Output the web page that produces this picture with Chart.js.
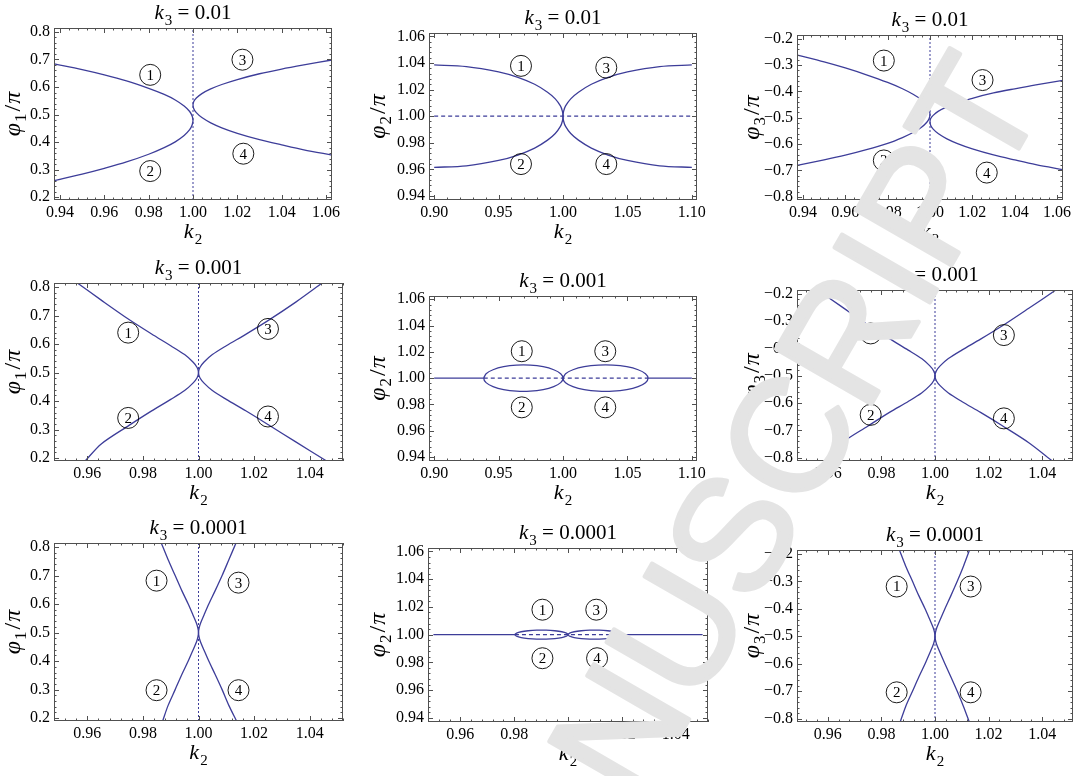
<!DOCTYPE html>
<html>
<head>
<meta charset="utf-8">
<script src="https://cdn.jsdelivr.net/npm/chart.js@4.4.1/dist/chart.umd.min.js"></script>
<style>
  html, body { margin: 0; padding: 0; background: #fff; overflow: hidden; }
  #page { position: relative; width: 1077px; height: 776px; overflow: hidden; background: #fff; }
  #page canvas { position: absolute; }
  #stamp { left: 0; top: 0; z-index: 5; pointer-events: none; }
</style>
</head>
<body>
<div id="page"></div>
<script>
/* tick values */
const k2TicksWide = [0.94, 0.96, 0.98, 1.00, 1.02, 1.04, 1.06];
const k2TicksHalf = [0.90, 0.95, 1.00, 1.05, 1.10];
const k2TicksNarrow = [0.96, 0.98, 1.00, 1.02, 1.04];
const phi1Ticks = [0.2, 0.3, 0.4, 0.5, 0.6, 0.7, 0.8];
const phi2Ticks = [0.94, 0.96, 0.98, 1.00, 1.02, 1.04, 1.06];
const phi3Ticks = [-0.8, -0.7, -0.6, -0.5, -0.4, -0.3, -0.2];

const k3Values = ['0.01', '0.001', '0.0001'];
const regionNames = ['1', '2', '3', '4'];

/* k3 = 0.01 */
const p1LeftK2 = [0.9373, 0.95, 0.96, 0.97, 0.98, 0.987, 0.992, 0.996, 0.9985, 0.9996, 1.0, 0.9996, 0.9985, 0.996, 0.992, 0.987, 0.98, 0.97, 0.96, 0.95, 0.9373];
const p1LeftPhi = [0.684, 0.663, 0.644, 0.622, 0.595, 0.573, 0.553, 0.531, 0.511, 0.495, 0.479, 0.462, 0.445, 0.424, 0.401, 0.380, 0.356, 0.328, 0.305, 0.284, 0.260];
const p1RightK2 = [1.0627, 1.05, 1.04, 1.03, 1.02, 1.013, 1.008, 1.004, 1.0015, 1.0004, 1.0, 1.0004, 1.0015, 1.004, 1.008, 1.013, 1.02, 1.03, 1.04, 1.05, 1.0627];
const p1RightPhi = [0.698, 0.680, 0.665, 0.648, 0.627, 0.609, 0.593, 0.576, 0.560, 0.548, 0.535, 0.520, 0.507, 0.489, 0.470, 0.452, 0.432, 0.409, 0.390, 0.372, 0.353];
const p1TagK2 = [0.9807, 0.9807, 1.0223, 1.0227];
const p1TagPhi = [0.644, 0.295, 0.699, 0.358];

const p2LeftK2 = [0.90, 0.925, 0.95, 0.965, 0.978, 0.988, 0.994, 0.998, 0.9995, 1.0, 0.9995, 0.998, 0.994, 0.988, 0.978, 0.965, 0.95, 0.925, 0.90];
const p2RightK2 = [1.10, 1.075, 1.05, 1.035, 1.022, 1.012, 1.006, 1.002, 1.0005, 1.0, 1.0005, 1.002, 1.006, 1.012, 1.022, 1.035, 1.05, 1.075, 1.10];
const p2Phi = [1.0385, 1.0373, 1.0333, 1.0292, 1.024, 1.018, 1.013, 1.0077, 1.0038, 1.0, 0.9962, 0.9923, 0.987, 0.982, 0.976, 0.9708, 0.9667, 0.9627, 0.9615];
const p2DashK2 = [0.90, 1.10];
const p2TagK2 = [0.9674, 0.9674, 1.0336, 1.0336];
const p2TagPhi = [1.0378, 0.964, 1.0365, 0.964];

const p3LeftK2 = [0.9373, 0.95, 0.96, 0.97, 0.98, 0.987, 0.992, 0.996, 0.9985, 0.9996, 1.0, 0.9996, 0.9985, 0.996, 0.992, 0.987, 0.98, 0.97, 0.96, 0.95, 0.9373];
const p3LeftPhi = [-0.262, -0.288, -0.311, -0.337, -0.366, -0.390, -0.411, -0.432, -0.453, -0.470, -0.487, -0.503, -0.517, -0.536, -0.556, -0.575, -0.597, -0.621, -0.642, -0.660, -0.681];
const p3RightK2 = [1.0627, 1.05, 1.04, 1.03, 1.02, 1.013, 1.008, 1.004, 1.0015, 1.0004, 1.0, 1.0004, 1.0015, 1.004, 1.008, 1.013, 1.02, 1.03, 1.04, 1.05, 1.0627];
const p3RightPhi = [-0.358, -0.375, -0.390, -0.406, -0.426, -0.444, -0.459, -0.475, -0.491, -0.502, -0.515, -0.530, -0.543, -0.561, -0.580, -0.598, -0.618, -0.641, -0.660, -0.678, -0.697];
const p3TagK2 = [0.9782, 0.9782, 1.0248, 1.0268];
const p3TagPhi = [-0.283, -0.662, -0.357, -0.708];

/* k3 = 0.001 */
const p4LeftK2 = [0.9564, 0.965, 0.975, 0.983, 0.990, 0.995, 0.998, 0.9995, 1.0, 0.9995, 0.998, 0.995, 0.990, 0.983, 0.975, 0.965, 0.9592];
const p4LeftPhi = [0.814, 0.754, 0.686, 0.636, 0.594, 0.563, 0.537, 0.518, 0.500, 0.482, 0.463, 0.437, 0.406, 0.365, 0.315, 0.250, 0.190];
const p4RightK2 = [1.0445, 1.035, 1.025, 1.017, 1.010, 1.005, 1.002, 1.0005, 1.0, 1.0005, 1.002, 1.005, 1.010, 1.017, 1.025, 1.035, 1.0461];
const p4RightPhi = [0.814, 0.747, 0.682, 0.634, 0.594, 0.563, 0.537, 0.518, 0.500, 0.482, 0.463, 0.437, 0.406, 0.366, 0.318, 0.257, 0.190];
const p4TagK2 = [0.9747, 0.9747, 1.025, 1.025];
const p4TagPhi = [0.640, 0.341, 0.653, 0.346];

const p5LeftLoopK2 = [0.9385, 0.9403, 0.9457, 0.9539, 0.9639, 0.9746, 0.9846, 0.9928, 0.9982, 1.0, 0.9982, 0.9928, 0.9846, 0.9746, 0.9639, 0.9539, 0.9457, 0.9403, 0.9385, 0.9403];
const p5RightLoopK2 = [1.0, 1.002, 1.0077, 1.0165, 1.0273, 1.0387, 1.0495, 1.0583, 1.064, 1.066, 1.064, 1.0583, 1.0495, 1.0387, 1.0273, 1.0165, 1.0077, 1.002, 1.0, 1.002];
const p5LoopPhi = [1.0, 1.0034, 1.0064, 1.0087, 1.0099, 1.0099, 1.0087, 1.0064, 1.0034, 1.0, 0.9966, 0.9936, 0.9913, 0.9901, 0.9901, 0.9913, 0.9936, 0.9966, 1.0, 1.0034];
const p5DashK2 = [0.9385, 1.066];
const p5TailLeftK2 = [0.90, 0.9385];
const p5TailRightK2 = [1.066, 1.10];
const p5TagK2 = [0.968, 0.968, 1.0328, 1.0328];
const p5TagPhi = [1.0205, 0.9778, 1.0205, 0.9778];

const p6LeftK2 = [0.9565, 0.965, 0.975, 0.983, 0.990, 0.995, 0.998, 0.9995, 1.0, 0.9995, 0.998, 0.995, 0.990, 0.983, 0.975, 0.965, 0.9595];
const p6LeftPhi = [-0.188, -0.246, -0.314, -0.364, -0.406, -0.437, -0.463, -0.482, -0.500, -0.518, -0.537, -0.563, -0.594, -0.634, -0.684, -0.748, -0.812];
const p6RightK2 = [1.0448, 1.035, 1.025, 1.017, 1.010, 1.005, 1.002, 1.0005, 1.0, 1.0005, 1.002, 1.005, 1.010, 1.017, 1.025, 1.035, 1.0438];
const p6RightPhi = [-0.188, -0.253, -0.318, -0.366, -0.406, -0.437, -0.463, -0.482, -0.500, -0.518, -0.537, -0.563, -0.594, -0.634, -0.682, -0.745, -0.812];
const p6TagK2 = [0.976, 0.976, 1.0257, 1.0257];
const p6TagPhi = [-0.345, -0.643, -0.351, -0.656];

/* k3 = 0.0001 */
const p7LeftK2 = [0.9866, 0.989, 0.9916, 0.994, 0.9963, 0.998, 0.9993, 0.9998, 1.0, 0.9998, 0.9993, 0.998, 0.9963, 0.994, 0.9916, 0.989, 0.9871];
const p7RightK2 = [1.0135, 1.011, 1.0085, 1.006, 1.0037, 1.002, 1.0007, 1.0002, 1.0, 1.0002, 1.0007, 1.002, 1.0037, 1.006, 1.0085, 1.011, 1.0137];
const p7Phi = [0.814, 0.757, 0.700, 0.647, 0.600, 0.562, 0.532, 0.515, 0.500, 0.485, 0.468, 0.438, 0.400, 0.353, 0.300, 0.243, 0.190];
const p7TagK2 = [0.9849, 0.9849, 1.0144, 1.0144];
const p7TagPhi = [0.682, 0.298, 0.675, 0.298];

const p8LeftLoopK2 = [0.9803, 0.9809, 0.9826, 0.9852, 0.9884, 0.9919, 0.9951, 0.9977, 0.9994, 1.0, 0.9994, 0.9977, 0.9951, 0.9919, 0.9884, 0.9852, 0.9826, 0.9809, 0.9803, 0.9809];
const p8RightLoopK2 = [1.0, 1.0006, 1.0023, 1.0049, 1.0081, 1.0116, 1.0148, 1.0174, 1.0191, 1.0197, 1.0191, 1.0174, 1.0148, 1.0116, 1.0081, 1.0049, 1.0023, 1.0006, 1.0, 1.0006];
const p8LoopPhi = [1.0, 1.0011, 1.0021, 1.0028, 1.0032, 1.0032, 1.0028, 1.0021, 1.0011, 1.0, 0.9989, 0.9979, 0.9972, 0.9968, 0.9968, 0.9972, 0.9979, 0.9989, 1.0, 1.0011];
const p8DashK2 = [0.9803, 1.0197];
const p8TailLeftK2 = [0.95, 0.9803];
const p8TailRightK2 = [1.0197, 1.05];
const p8TagK2 = [0.9905, 0.9905, 1.0105, 1.0108];
const p8TagPhi = [1.018, 0.983, 1.018, 0.983];

const p9LeftK2 = [0.9868, 0.989, 0.9916, 0.994, 0.9963, 0.998, 0.9993, 0.9998, 1.0, 0.9998, 0.9993, 0.998, 0.9963, 0.994, 0.9916, 0.989, 0.9870];
const p9RightK2 = [1.0128, 1.0107, 1.0083, 1.0059, 1.0037, 1.002, 1.0007, 1.0002, 1.0, 1.0002, 1.0007, 1.002, 1.0037, 1.0059, 1.0083, 1.0107, 1.0128];
const p9Phi = [-0.188, -0.243, -0.300, -0.353, -0.400, -0.438, -0.468, -0.485, -0.500, -0.515, -0.532, -0.562, -0.600, -0.647, -0.700, -0.757, -0.812];
const p9TagK2 = [0.9857, 0.9857, 1.0133, 1.0133];
const p9TagPhi = [-0.319, -0.704, -0.319, -0.704];

/* styling */
const BLUE = '#3d3d99';
const FRAME = '#505050';
const SERIF = '"Liberation Serif", "Times New Roman", serif';
const phi1Range = [0.19, 0.814];
const phi2Range = [0.937, 1.0625];
const phi3Range = [-0.812, -0.186];

// box = [left, top, right, bottom] of the plot frame on the page
const panels = [
  { box: [54, 28, 332, 200], k3: k3Values[0], phi: '1', kRange: [0.9373, 1.0627], kTicks: k2TicksWide,
    phiRange: phi1Range, phiTicks: phi1Ticks, phiDigits: 1, ytx: 41, guide: 'v',
    curves: [[p1LeftK2, p1LeftPhi], [p1RightK2, p1RightPhi]], tags: [p1TagK2, p1TagPhi] },
  { box: [429, 33, 697, 200], k3: k3Values[0], phi: '2', kRange: [0.896, 1.104], kTicks: k2TicksHalf,
    phiRange: phi2Range, phiTicks: phi2Ticks, phiDigits: 2, ytx: 51, guide: 'h', dash: p2DashK2, tails: [],
    curves: [[p2LeftK2, p2Phi], [p2RightK2, p2Phi]], tags: [p2TagK2, p2TagPhi] },
  { box: [797, 35, 1063, 200], k3: k3Values[0], phi: '3', kRange: [0.9372, 1.0628], kTicks: k2TicksWide,
    phiRange: phi3Range, phiTicks: phi3Ticks, phiDigits: 1, ytx: 45, guide: 'v',
    curves: [[p3LeftK2, p3LeftPhi], [p3RightK2, p3RightPhi]], tags: [p3TagK2, p3TagPhi] },

  { box: [54, 283, 343, 461], k3: k3Values[1], phi: '1', kRange: [0.948, 1.052], kTicks: k2TicksNarrow,
    phiRange: phi1Range, phiTicks: phi1Ticks, phiDigits: 1, ytx: 41, guide: 'v',
    curves: [[p4LeftK2, p4LeftPhi], [p4RightK2, p4RightPhi]], tags: [p4TagK2, p4TagPhi] },
  { box: [429, 296, 697, 461], k3: k3Values[1], phi: '2', kRange: [0.896, 1.104], kTicks: k2TicksHalf,
    phiRange: phi2Range, phiTicks: phi2Ticks, phiDigits: 2, ytx: 51, guide: 'h', dash: p5DashK2,
    tails: [p5TailLeftK2, p5TailRightK2],
    curves: [[p5LeftLoopK2, p5LoopPhi], [p5RightLoopK2, p5LoopPhi]], tags: [p5TagK2, p5TagPhi] },
  { box: [797, 290, 1073, 461], k3: k3Values[1], phi: '3', kRange: [0.9485, 1.0515], kTicks: k2TicksNarrow,
    phiRange: phi3Range, phiTicks: phi3Ticks, phiDigits: 1, ytx: 45, guide: 'v',
    curves: [[p6LeftK2, p6LeftPhi], [p6RightK2, p6RightPhi]], tags: [p6TagK2, p6TagPhi] },

  { box: [54, 543, 343, 721], k3: k3Values[2], phi: '1', kRange: [0.948, 1.052], kTicks: k2TicksNarrow,
    phiRange: phi1Range, phiTicks: phi1Ticks, phiDigits: 1, ytx: 41, guide: 'v',
    curves: [[p7LeftK2, p7Phi], [p7RightK2, p7Phi]], tags: [p7TagK2, p7TagPhi] },
  { box: [428, 548, 708, 722], k3: k3Values[2], phi: '2', kRange: [0.948, 1.052], kTicks: k2TicksNarrow,
    phiRange: phi2Range, phiTicks: phi2Ticks, phiDigits: 2, ytx: 50, guide: 'h', dash: p8DashK2,
    tails: [p8TailLeftK2, p8TailRightK2],
    curves: [[p8LeftLoopK2, p8LoopPhi], [p8RightLoopK2, p8LoopPhi]], tags: [p8TagK2, p8TagPhi] },
  { box: [797, 550, 1073, 722], k3: k3Values[2], phi: '3', kRange: [0.9485, 1.0515], kTicks: k2TicksNarrow,
    phiRange: phi3Range, phiTicks: phi3Ticks, phiDigits: 1, ytx: 45, guide: 'v',
    curves: [[p9LeftK2, p9Phi], [p9RightK2, p9Phi]], tags: [p9TagK2, p9TagPhi] }
];

// space around the frame inside each canvas
const PAD_L = 70, PAD_T = 40, PAD_R = 24, PAD_B = 50;

function fmt(v, digits) {
  const s = Math.abs(v).toFixed(digits);
  return v < -1e-9 ? '\u2212' + s : s;
}

function series(xs, ys, style) {
  return Object.assign({
    data: xs.map((x, i) => ({ x: x, y: ys[i] })),
    showLine: true,
    pointRadius: 0,
    borderColor: BLUE,
    borderWidth: 1.3,
    tension: 0.3,
    fill: false
  }, style);
}

/* small helpers for k_3, phi_1/pi style labels */
function runFont(r, size) {
  const px = r.s ? Math.round(size * 0.7) : size;
  return (r.i ? 'italic ' : '') + px + 'px ' + SERIF;
}
function runsWidth(ctx, runs, size) {
  let w = 0;
  runs.forEach(r => { ctx.font = runFont(r, size); w += ctx.measureText(r.t).width + (r.gap || 0); });
  return w;
}
function drawRuns(ctx, runs, cx, baseline, size) {
  let x = cx - runsWidth(ctx, runs, size) / 2;
  ctx.textAlign = 'left';
  ctx.textBaseline = 'alphabetic';
  runs.forEach(r => {
    ctx.font = runFont(r, size);
    ctx.fillText(r.t, x, r.s ? baseline + size * 0.27 : baseline);
    x += ctx.measureText(r.t).width + (r.gap || 0);
  });
}

function frameTicks(ctx, scale, a, horizontal, major) {
  const step = major[1] - major[0];
  const minor = step / 5;
  for (let i = -5; i <= (major.length - 1) * 5 + 5; i++) {
    const v = major[0] + i * minor;
    if (v < scale.min - 1e-9 || v > scale.max + 1e-9) continue;
    const len = i % 5 === 0 ? 5 : 2.5;
    const p = Math.round(scale.getPixelForValue(v)) + 0.5;
    ctx.beginPath();
    if (horizontal) {
      ctx.moveTo(p, a.bottom); ctx.lineTo(p, a.bottom - len);
      ctx.moveTo(p, a.top); ctx.lineTo(p, a.top + len);
    } else {
      ctx.moveTo(a.left, p); ctx.lineTo(a.left + len, p);
      ctx.moveTo(a.right, p); ctx.lineTo(a.right - len, p);
    }
    ctx.stroke();
  }
}

// frame, inward ticks, circled region numbers and the math titles
function decor(p) {
  return {
    id: 'decor',
    afterDraw(chart) {
      const ctx = chart.ctx;
      const a = chart.chartArea;
      const xs = chart.scales.x, ys = chart.scales.y;
      ctx.save();
      ctx.strokeStyle = FRAME;
      ctx.lineWidth = 1;
      ctx.strokeRect(Math.round(a.left) + 0.5, Math.round(a.top) + 0.5,
        Math.round(a.right - a.left) - 1, Math.round(a.bottom - a.top) - 1);
      frameTicks(ctx, xs, a, true, p.kTicks);
      frameTicks(ctx, ys, a, false, p.phiTicks);

      // circled branch numbers
      ctx.strokeStyle = '#000';
      ctx.fillStyle = '#000';
      ctx.lineWidth = 0.9;
      ctx.font = '15px ' + SERIF;
      ctx.textAlign = 'center';
      ctx.textBaseline = 'middle';
      p.tags[0].forEach((k, i) => {
        const x = xs.getPixelForValue(k);
        const y = ys.getPixelForValue(p.tags[1][i]);
        ctx.beginPath();
        ctx.arc(x, y, 10.5, 0, Math.PI * 2);
        ctx.stroke();
        ctx.fillText(regionNames[i], x, y + 1);
      });

      const mid = (a.left + a.right) / 2;
      drawRuns(ctx, [{ t: 'k', i: 1, gap: 1 }, { t: '3', s: 1 }, { t: ' = ' + p.k3 }], mid, a.top - 9, 21);
      drawRuns(ctx, [{ t: 'k', i: 1, gap: 1 }, { t: '2', s: 1 }], mid, a.bottom + 38, 22);

      ctx.translate(a.left - p.ytx + 7, (a.top + a.bottom) / 2);
      ctx.rotate(-Math.PI / 2);
      drawRuns(ctx, [{ t: '\u03c6', i: 1, gap: 1 }, { t: p.phi, s: 1, gap: 2 }, { t: '/', gap: 1 }, { t: '\u03c0', i: 1 }], 0, 0, 24);
      ctx.restore();
    }
  };
}

const page = document.getElementById('page');

panels.forEach(p => {
  const [L, T, R, B] = p.box;
  const cv = document.createElement('canvas');
  cv.width = (R - L) + PAD_L + PAD_R;
  cv.height = (B - T) + PAD_T + PAD_B;
  cv.style.left = (L - PAD_L) + 'px';
  cv.style.top = (T - PAD_T) + 'px';
  cv.style.width = cv.width + 'px';
  cv.style.height = cv.height + 'px';
  page.appendChild(cv);

  const datasets = p.curves.map(c => series(c[0], c[1]));
  if (p.guide === 'v') {
    datasets.push(series([1, 1], p.phiRange, { borderWidth: 1, borderDash: [2, 2], tension: 0 }));
  } else {
    datasets.push(series(p.dash, [1, 1], { borderWidth: 1.2, borderDash: [4, 3], tension: 0 }));
    p.tails.forEach(t => datasets.push(series(t, [1, 1], { tension: 0 })));
  }

  const tickFont = { family: SERIF, size: 16 };

  new Chart(cv, {
    type: 'scatter',
    data: { datasets: datasets },
    options: {
      responsive: false,
      animation: false,
      events: [],
      layout: { padding: { left: 0, top: PAD_T, right: PAD_R, bottom: 0 } },
      scales: {
        x: {
          type: 'linear',
          min: p.kRange[0],
          max: p.kRange[1],
          afterBuildTicks: s => { s.ticks = p.kTicks.map(v => ({ value: v })); },
          afterFit: s => { s.height = PAD_B; },
          grid: { display: false, drawTicks: false },
          border: { display: false },
          ticks: { padding: 3, color: '#000', font: tickFont, maxRotation: 0, autoSkip: false,
                   callback: v => fmt(v, 2) }
        },
        y: {
          type: 'linear',
          min: p.phiRange[0],
          max: p.phiRange[1],
          afterBuildTicks: s => { s.ticks = p.phiTicks.map(v => ({ value: v })); },
          afterFit: s => { s.width = PAD_L; },
          grid: { display: false, drawTicks: false },
          border: { display: false },
          ticks: { padding: 4, color: '#000', font: tickFont, autoSkip: false,
                   callback: v => fmt(v, p.phiDigits) }
        }
      },
      plugins: {
        legend: { display: false },
        tooltip: { enabled: false },
        title: { display: false }
      }
    },
    plugins: [decor(p)]
  });
});

/* ACCEPTED MANUSCRIPT stamp across the sheet */
const stamp = document.createElement('canvas');
stamp.id = 'stamp';
stamp.width = 1077;
stamp.height = 776;
page.appendChild(stamp);
const sctx = stamp.getContext('2d');
sctx.font = '160px "Liberation Sans", Arial, sans-serif';
sctx.fillStyle = '#e4e4e4';
sctx.strokeStyle = '#e4e4e4';
sctx.lineWidth = 4;
sctx.lineJoin = 'round';
sctx.translate(638, 808);
sctx.rotate(-60 * Math.PI / 180);
const lead = sctx.measureText('ACCEPTED MA').width;
sctx.fillText('ACCEPTED MANUSCRIPT', -lead, 0);
sctx.strokeText('ACCEPTED MANUSCRIPT', -lead, 0);
</script>
</body>
</html>
